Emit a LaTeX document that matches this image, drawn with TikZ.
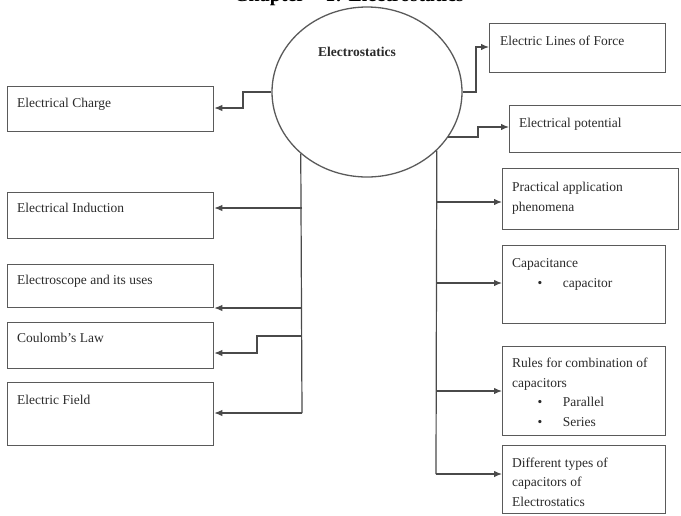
\documentclass[tikz,border=0pt]{standalone}
\usepackage{fontspec}
\setmainfont{Liberation Serif}
\usetikzlibrary{shapes.geometric,arrows.meta,calc}
\definecolor{linegray}{HTML}{4A4A4A}
\definecolor{boxgray}{HTML}{5A5A5A}
\definecolor{inkgray}{HTML}{2A2A2A}
\begin{document}
\begin{tikzpicture}[x=1pt,y=-1pt,
  box/.style={draw=boxgray,line width=1.3pt,rectangle,anchor=north west,inner sep=0pt},
  txt/.style={font=\fontsize{13.5}{19.5}\selectfont,text=inkgray,anchor=base west,inner sep=0pt,align=left},
  link/.style={draw=linegray,line width=1.2pt},
  arr/.style={link,-{Latex[length=8pt,width=6.5pt]}}]
\useasboundingbox (0,0) rectangle (681,515);

% heading, running off the top of the page
\begin{scope}
\clip (0,0) rectangle (681,515);
\node[font=\bfseries\fontsize{20}{24}\selectfont,anchor=base,inner sep=0pt] (title) at (349,1) {Chapter -- 1: Electrostatics};
\end{scope}

% central topic
\node[ellipse,draw=boxgray,line width=1.3pt,minimum width=190pt,minimum height=170pt,inner sep=0pt] (core) at (367,92) {};
\node[font=\bfseries\fontsize{13.5}{16}\selectfont,text=inkgray,anchor=base,inner sep=0pt] (coretxt) at (357,56) {Electrostatics};

% left column
\node[box,minimum width=206.5pt,minimum height=45pt] (charge) at (6.5,86) {};
\node[txt] (chargetxt) at (17,107) {Electrical Charge};
\node[box,minimum width=206pt,minimum height=46pt] (ind) at (7,192) {};
\node[txt] (indtxt) at (17,212) {Electrical Induction};
\node[box,minimum width=206pt,minimum height=43pt] (scope) at (7,264) {};
\node[txt] (scopetxt) at (17,284) {Electroscope and its uses};
\node[box,minimum width=206pt,minimum height=46pt] (coul) at (7,322) {};
\node[txt] (coultxt) at (17,342) {Coulomb's Law};
\node[box,minimum width=206pt,minimum height=63pt] (field) at (7,382) {};
\node[txt] (fieldtxt) at (17,404) {Electric Field};

% right column (multi-line texts are placed by their last baseline)
\node[box,minimum width=176pt,minimum height=49pt] (lof) at (489,23) {};
\node[txt] (loftxt) at (500,45) {Electric Lines of Force};
\node[box,minimum width=181pt,minimum height=47pt] (pot) at (509,105) {};
\node[txt] (pottxt) at (519,127) {Electrical potential};
\node[box,minimum width=176pt,minimum height=61pt] (pract) at (502,168) {};
\node[txt] (practtxt) at (512,211) {Practical application\\phenomena};
\node[box,minimum width=163pt,minimum height=78pt] (cap) at (502,245) {};
\node[txt] (captxt) at (512,287) {Capacitance\\\hspace*{25.5pt}\textbullet\hspace{20.5pt}capacitor};
\node[box,minimum width=163pt,minimum height=89pt] (rules) at (502,346) {};
\node[txt] (rulestxt) at (512,426) {Rules for combination of\\capacitors\\\hspace*{25.5pt}\textbullet\hspace{20.5pt}Parallel\\\hspace*{25.5pt}\textbullet\hspace{20.5pt}Series};
\node[box,minimum width=163pt,minimum height=68pt] (diff) at (502,445) {};
\node[txt] (difftxt) at (512,506) {Different types of\\capacitors of\\Electrostatics};

% branch points on the two trunks
\coordinate (ltop) at (core.223.6);
\coordinate (rtop) at (core.-40.2);
\coordinate (l1) at (302,208);
\coordinate (l2) at (302,308);
\coordinate (l3) at (302,336);
\coordinate (l3b) at (257,353);
\coordinate (l4) at (302,413);
\coordinate (r1) at (436,202);
\coordinate (r2) at (436,283);
\coordinate (r3) at (436,391);
\coordinate (r4) at (436,474);
\coordinate (cw) at (243,108);
\coordinate (ce) at (476,47);
\coordinate (cp) at (478,127);

% upper connectors
\draw[arr] (core.west) -| (cw) -- (cw -| charge.east);
\draw[arr] (core.east) -| (ce) -- (ce -| lof.west);
\draw[arr] (core.-29.4) -| (cp) -- (cp -| pot.west);

% left trunk
\draw[link] (ltop) -- (l4);
\draw[arr] (l1) -- (l1 -| ind.east);
\draw[arr] (l2) -- (l2 -| scope.east);
\draw[arr] (l3) -| (l3b) -- (l3b -| coul.east);
\draw[arr] (l4) -- (l4 -| field.east);

% right trunk
\draw[link] (rtop) -- (r4);
\draw[arr] (r1) -- (r1 -| pract.west);
\draw[arr] (r2) -- (r2 -| cap.west);
\draw[arr] (r3) -- (r3 -| rules.west);
\draw[arr] (r4) -- (r4 -| diff.west);
\end{tikzpicture}
\end{document}
